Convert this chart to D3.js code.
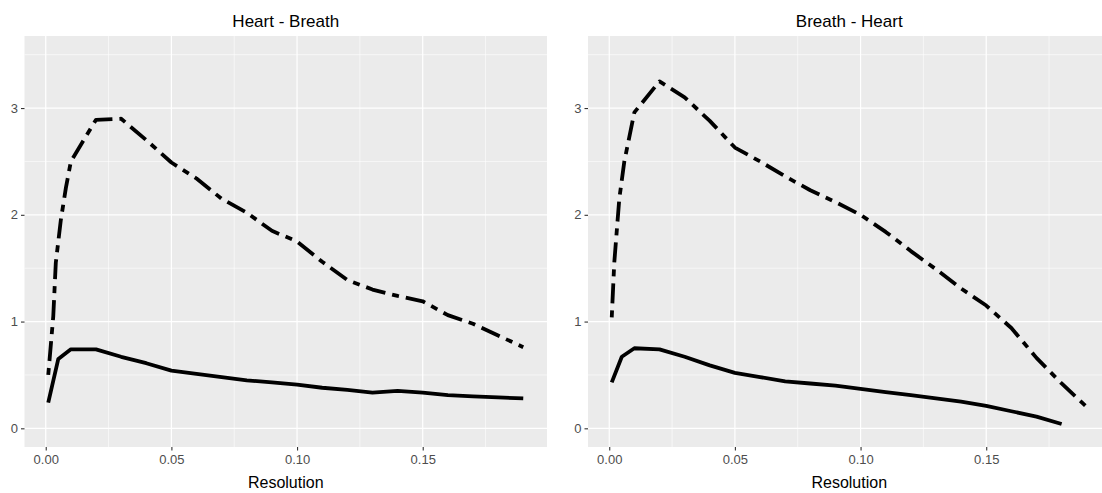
<!DOCTYPE html>
<html>
<head>
<meta charset="utf-8">
<script src="https://cdn.jsdelivr.net/npm/d3@7"></script>
<style>
body { margin: 0; background: #fff; }
text { font-family: "Liberation Sans", Arial, sans-serif; }
</style>
</head>
<body>
<svg id="chart" width="1102" height="493"></svg>
<script>
// Heart - Breath
var hbSolidX = [0.001, 0.005, 0.01, 0.02, 0.03, 0.04, 0.05, 0.06, 0.07, 0.08, 0.09, 0.10, 0.11, 0.12, 0.13, 0.14, 0.15, 0.16, 0.17, 0.18, 0.19];
var hbSolidY = [0.24, 0.65, 0.74, 0.74, 0.67, 0.61, 0.54, 0.51, 0.48, 0.45, 0.43, 0.41, 0.38, 0.36, 0.335, 0.35, 0.335, 0.31, 0.30, 0.29, 0.28];
var hbDashX = [0.001, 0.003, 0.004, 0.006, 0.008, 0.01, 0.02, 0.03, 0.04, 0.05, 0.06, 0.07, 0.08, 0.09, 0.10, 0.11, 0.12, 0.13, 0.14, 0.15, 0.16, 0.17, 0.18, 0.19];
var hbDashY = [0.50, 1.05, 1.55, 1.95, 2.25, 2.50, 2.89, 2.90, 2.70, 2.49, 2.34, 2.15, 2.02, 1.85, 1.75, 1.56, 1.39, 1.30, 1.24, 1.19, 1.06, 0.98, 0.87, 0.76];

// Breath - Heart
var bhSolidX = [0.001, 0.005, 0.01, 0.02, 0.03, 0.04, 0.05, 0.06, 0.07, 0.08, 0.09, 0.10, 0.11, 0.12, 0.13, 0.14, 0.15, 0.16, 0.17, 0.18];
var bhSolidY = [0.43, 0.67, 0.75, 0.74, 0.67, 0.59, 0.52, 0.48, 0.44, 0.42, 0.40, 0.37, 0.34, 0.31, 0.28, 0.25, 0.21, 0.16, 0.11, 0.04];
var bhDashX = [0.001, 0.002, 0.004, 0.006, 0.01, 0.02, 0.03, 0.04, 0.05, 0.06, 0.07, 0.08, 0.09, 0.10, 0.11, 0.12, 0.13, 0.14, 0.15, 0.16, 0.17, 0.18, 0.19];
var bhDashY = [1.04, 1.55, 2.15, 2.50, 2.96, 3.25, 3.10, 2.88, 2.63, 2.50, 2.36, 2.23, 2.12, 2.00, 1.84, 1.66, 1.49, 1.31, 1.15, 0.94, 0.66, 0.42, 0.20];

var xTicks = [0, 0.05, 0.10, 0.15];
var xMinor = [0.025, 0.075, 0.125, 0.175];
var yTicks = [0, 1, 2, 3];
var yMinor = [0.5, 1.5, 2.5, 3.5];
var xTitle = "Resolution";

var svg = d3.select('#chart');
var panelW = 522.5, panelH = 411, panelTop = 36;

function zip(xs, ys) {
	return xs.map(function (x, i) { return { x: x, y: ys[i] }; });
}

function drawPanel(left, title, solid, dashed) {
	var g = svg.append("g").attr("transform", "translate(" + left + "," + panelTop + ")");

	var scaleX = d3.scaleLinear().domain([-0.00845, 0.19945]).range([0, panelW]);
	var scaleY = d3.scaleLinear().domain([-0.175, 3.675]).range([panelH, 0]);

	g.append("rect")
		.attr("width", panelW)
		.attr("height", panelH)
		.attr("fill", "#ebebeb");

	// minor grid
	g.selectAll(".xminor").data(xMinor).enter().append("line")
		.attr("x1", scaleX).attr("x2", scaleX)
		.attr("y1", 0).attr("y2", panelH)
		.attr("stroke", "#fff").attr("stroke-width", 0.6);
	g.selectAll(".yminor").data(yMinor).enter().append("line")
		.attr("y1", scaleY).attr("y2", scaleY)
		.attr("x1", 0).attr("x2", panelW)
		.attr("stroke", "#fff").attr("stroke-width", 0.6);
	// major grid
	g.selectAll(".xmajor").data(xTicks).enter().append("line")
		.attr("x1", scaleX).attr("x2", scaleX)
		.attr("y1", 0).attr("y2", panelH)
		.attr("stroke", "#fff").attr("stroke-width", 1.2);
	g.selectAll(".ymajor").data(yTicks).enter().append("line")
		.attr("y1", scaleY).attr("y2", scaleY)
		.attr("x1", 0).attr("x2", panelW)
		.attr("stroke", "#fff").attr("stroke-width", 1.2);

	var line = d3.line().x(function (d) { return scaleX(d.x); }).y(function (d) { return scaleY(d.y); });

	g.append("path")
		.datum(solid)
		.attr("fill", "none")
		.attr("stroke", "#000")
		.attr("stroke-width", 3.8)
		.attr("stroke-linejoin", "round")
		.attr("d", line);

	g.append("path")
		.datum(dashed)
		.attr("fill", "none")
		.attr("stroke", "#000")
		.attr("stroke-width", 3.8)
		.attr("stroke-linejoin", "round")
		.attr("stroke-dasharray", "7,7,20,7")
		.attr("d", line);

	var xAxis = g.append("g")
		.attr("transform", "translate(0," + panelH + ")")
		.call(d3.axisBottom(scaleX).tickValues(xTicks).tickSize(3.5).tickPadding(4).tickFormat(d3.format(".2f")));
	var yAxis = g.append("g")
		.call(d3.axisLeft(scaleY).tickValues(yTicks).tickSize(3.5).tickPadding(3).tickFormat(d3.format("d")));

	[xAxis, yAxis].forEach(function (a) {
		a.select(".domain").remove();
		a.selectAll(".tick line").attr("stroke", "#333").attr("stroke-width", 1.1);
		a.selectAll(".tick text")
			.attr("fill", "#4d4d4d")
			.style("font-size", "13px")
			.style("font-family", "'Liberation Sans', Arial, sans-serif");
	});

	g.append("text")
		.attr("x", panelW / 2)
		.attr("y", -9)
		.attr("text-anchor", "middle")
		.style("font-size", "17px")
		.attr("fill", "#000")
		.text(title);

	g.append("text")
		.attr("x", panelW / 2)
		.attr("y", panelH + 41)
		.attr("text-anchor", "middle")
		.style("font-size", "16px")
		.attr("fill", "#000")
		.text(xTitle);
}

drawPanel(24.5, "Heart - Breath", zip(hbSolidX, hbSolidY), zip(hbDashX, hbDashY));
drawPanel(588, "Breath - Heart", zip(bhSolidX, bhSolidY), zip(bhDashX, bhDashY));
</script>
</body>
</html>
